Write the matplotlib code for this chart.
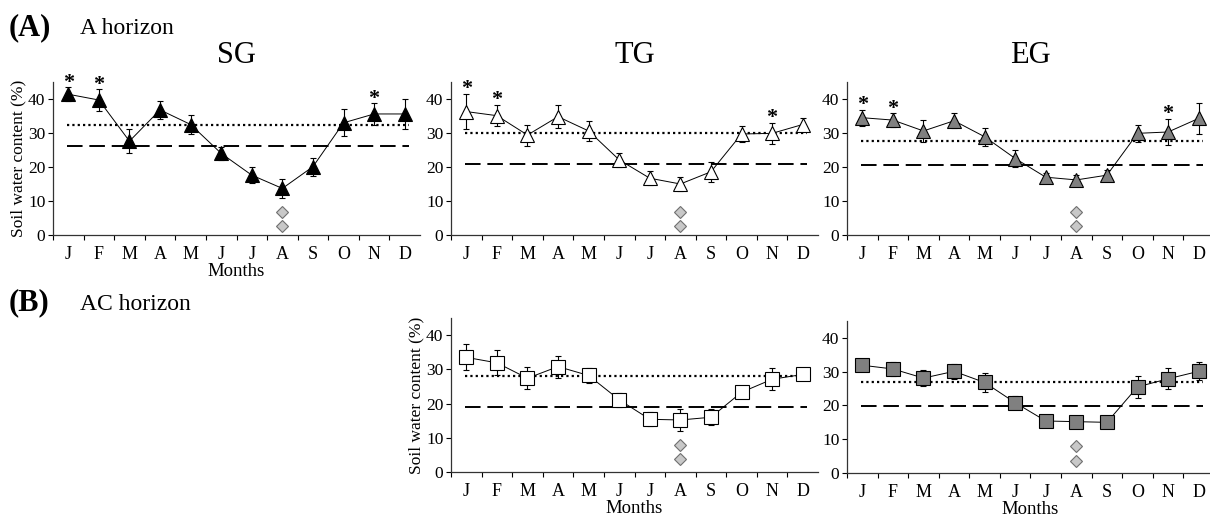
import matplotlib.pyplot as plt

plt.rcParams['font.family'] = ['Liberation Serif', 'DejaVu Serif']

months = ['J', 'F', 'M', 'A', 'M', 'J', 'J', 'A', 'S', 'O', 'N', 'D']

# (A) A horizon
sg_a = [41.4, 39.7, 27.6, 36.8, 32.5, 24.0, 17.6, 13.7, 20.1, 33.0, 35.6, 35.6]
sg_a_err = [2.0, 3.1, 3.6, 2.7, 2.7, 2.0, 2.3, 2.9, 2.6, 4.0, 3.1, 4.3]
tg_a = [36.3, 35.1, 29.4, 34.8, 30.6, 22.1, 16.7, 15.0, 18.6, 29.7, 29.9, 32.5]
tg_a_err = [5.1, 3.1, 3.1, 3.4, 3.0, 2.1, 2.0, 2.2, 2.9, 2.4, 3.1, 2.0]
eg_a = [34.5, 33.8, 30.6, 33.6, 28.9, 22.5, 17.0, 16.2, 17.6, 29.9, 30.3, 34.3]
eg_a_err = [2.3, 2.0, 3.2, 2.2, 2.7, 2.5, 1.1, 1.5, 1.5, 2.4, 3.9, 4.6]

# (B) AC horizon
tg_b = [33.5, 31.9, 27.4, 30.8, 28.2, 21.1, 15.4, 15.2, 16.0, 23.3, 27.1, 28.5]
tg_b_err = [3.8, 3.7, 3.2, 3.2, 2.1, 2.1, 2.1, 3.1, 2.3, 1.5, 3.2, 1.5]
eg_b = [31.9, 30.8, 28.1, 30.1, 26.8, 20.8, 15.4, 15.2, 15.0, 25.5, 27.9, 30.1]
eg_b_err = [1.6, 2.2, 2.3, 2.2, 2.7, 1.9, 0.5, 0.5, 1.0, 3.3, 3.1, 2.7]

# reference lines: dotted (upper) and dashed (lower)
dotted = {'sg_a': 32.3, 'tg_a': 30.0, 'eg_a': 27.6, 'tg_b': 28.1, 'eg_b': 26.9}
dashed = {'sg_a': 26.2, 'tg_a': 21.0, 'eg_a': 20.6, 'tg_b': 19.0, 'eg_b': 19.7}

# significance marks
stars_a = [0, 1, 10]
diamond_month = 7
diamond_vals_a = [6.9, 2.7]
diamond_vals_b = [7.9, 3.7]


def draw_panel(ax, key, vals, errs, marker, face, msize, diamonds, stars=None,
               xlabel=True, ylabel=True):
    x = list(range(len(months)))
    ax.errorbar(x, vals, yerr=errs, fmt='none', ecolor='black', elinewidth=0.8,
                capsize=2.5, capthick=0.8, zorder=2)
    ax.plot(x, vals, color='black', lw=0.7, zorder=3)
    ax.plot(x, vals, ls='none', marker=marker, ms=msize, mfc=face, mec='black',
            mew=0.8, zorder=4)
    ax.hlines(dotted[key], -0.05, 11.15, colors='black', linestyles=(0, (1, 1.4)), lw=1.6, zorder=1)
    ax.hlines(dashed[key], -0.05, 11.15, colors='black', linestyles=(0, (8, 3.5)), lw=1.4, zorder=1)
    ax.plot([diamond_month] * len(diamonds), diamonds, ls='none', marker='D',
            ms=6, mfc='#c8c8c8', mec='#707070', mew=0.8)
    if stars:
        for i in stars:
            ax.text(i, vals[i] + errs[i] + 1.4, '*', ha='center', va='center',
                    fontsize=16, fontweight='bold')
    ax.set_xlim(-0.5, 11.5)
    ax.set_ylim(0, 45)
    ax.set_yticks([0, 10, 20, 30, 40])
    ax.set_xticks(x)
    ax.set_xticklabels(months)
    ax.set_xticks([i + 0.5 for i in x[:-1]] + [-0.5], minor=True)
    ax.tick_params(axis='x', which='major', length=0, pad=8, labelsize=13)
    ax.tick_params(axis='x', which='minor', length=3.5, width=0.8, direction='out')
    ax.tick_params(axis='y', length=3.5, width=0.8, labelsize=12.5, pad=2)
    for s in ['top', 'right']:
        ax.spines[s].set_visible(False)
    for s in ['left', 'bottom']:
        ax.spines[s].set_color('#333333')
        ax.spines[s].set_linewidth(0.9)
    if xlabel:
        ax.set_xlabel('Months', fontsize=13.5, labelpad=0)
    if ylabel:
        ax.set_ylabel('Soil water content (%)', fontsize=12.5, labelpad=1)


fig = plt.figure(figsize=(12.1, 5.17), dpi=100)

W, H = 1210, 517


def axes_px(left, right, y0, ytop):
    return fig.add_axes([left / W, 1 - y0 / H, (right - left) / W, (y0 - ytop) / H])


ax1 = axes_px(53, 420, 235, 82)
ax2 = axes_px(451, 818, 235, 82)
ax3 = axes_px(847, 1214, 235, 82)
ax4 = axes_px(451, 818, 472, 318)
ax5 = axes_px(847, 1214, 473, 321)

draw_panel(ax1, 'sg_a', sg_a, sg_a_err, '^', 'black', 10, diamond_vals_a, stars_a)
draw_panel(ax2, 'tg_a', tg_a, tg_a_err, '^', 'white', 10, diamond_vals_a, stars_a,
           xlabel=False, ylabel=False)
draw_panel(ax3, 'eg_a', eg_a, eg_a_err, '^', '#808080', 10, diamond_vals_a, stars_a,
           xlabel=False, ylabel=False)
draw_panel(ax4, 'tg_b', tg_b, tg_b_err, 's', 'white', 10, diamond_vals_b)
draw_panel(ax5, 'eg_b', eg_b, eg_b_err, 's', '#808080', 10, diamond_vals_b, ylabel=False)

ax1.set_title('SG', fontsize=22, pad=14)
ax2.set_title('TG', fontsize=22, pad=14)
ax3.set_title('EG', fontsize=22, pad=14)

fig.text(9 / W, 1 - 28 / H, '(A)', fontsize=22, fontweight='bold', va='center')
fig.text(80 / W, 1 - 29 / H, 'A horizon', fontsize=17, va='center')
fig.text(9 / W, 1 - 303 / H, '(B)', fontsize=22, fontweight='bold', va='center')
fig.text(80 / W, 1 - 304 / H, 'AC horizon', fontsize=17, va='center')

fig.savefig('out.png', dpi=100)
